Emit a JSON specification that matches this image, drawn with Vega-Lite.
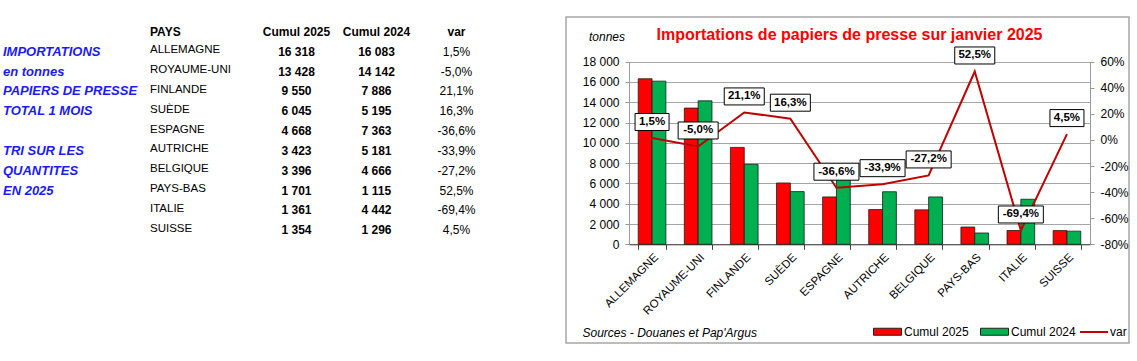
{
  "$schema": "https://vega.github.io/schema/vega-lite/v6.json",
  "padding": {"left": 0, "top": 16, "right": 0, "bottom": 0},
  "background": "white",
  "spacing": 85,
  "config": {
    "font": "Liberation Sans",
    "locale": {"number": {"decimal": ",", "thousands": " ", "grouping": [3], "currency": ["", " €"], "minus": "-"}},
    "text": {"color": "#000000"}
  },
  "datasets": {
    "pays": [
      {"rank": 1, "country": "ALLEMAGNE", "c2025": 16318, "c2024": 16083, "var": 0.015},
      {"rank": 2, "country": "ROYAUME-UNI", "c2025": 13428, "c2024": 14142, "var": -0.05},
      {"rank": 3, "country": "FINLANDE", "c2025": 9550, "c2024": 7886, "var": 0.211},
      {"rank": 4, "country": "SUÈDE", "c2025": 6045, "c2024": 5195, "var": 0.163},
      {"rank": 5, "country": "ESPAGNE", "c2025": 4668, "c2024": 7363, "var": -0.366},
      {"rank": 6, "country": "AUTRICHE", "c2025": 3423, "c2024": 5181, "var": -0.339},
      {"rank": 7, "country": "BELGIQUE", "c2025": 3396, "c2024": 4666, "var": -0.272},
      {"rank": 8, "country": "PAYS-BAS", "c2025": 1701, "c2024": 1115, "var": 0.525},
      {"rank": 9, "country": "ITALIE", "c2025": 1361, "c2024": 4442, "var": -0.694},
      {"rank": 10, "country": "SUISSE", "c2025": 1354, "c2024": 1296, "var": 0.045}
    ]
  },
  "hconcat": [
    {
      "width": 480,
      "height": 225.2,
      "view": {"stroke": null},
      "data": {"name": "pays"},
      "encoding": {
        "y": {"field": "rank", "type": "ordinal", "scale": {"type": "point", "domain": [0, 1, 2, 3, 4, 5, 6, 7, 8, 9, 10], "padding": 0.68}, "axis": null}
      },
      "layer": [
        {
          "data": {"values": [
            {"rank": 1, "text": "IMPORTATIONS"},
            {"rank": 2, "text": "en tonnes"},
            {"rank": 3, "text": "PAPIERS DE PRESSE"},
            {"rank": 4, "text": "TOTAL 1 MOIS"},
            {"rank": 6, "text": "TRI SUR LES"},
            {"rank": 7, "text": "QUANTITES"},
            {"rank": 8, "text": "EN 2025"}
          ]},
          "mark": {"type": "text", "align": "left", "baseline": "middle", "dx": -133.5, "dy": 1.5, "fontSize": 13, "fontWeight": "bold", "fontStyle": "italic", "color": "#1a1aff"},
          "encoding": {
            "x": {"datum": "label", "type": "nominal", "scale": {"type": "point", "domain": ["label", "PAYS", "Cumul 2025", "Cumul 2024", "var"], "padding": 1, "align": 0.853}, "axis": null},
            "text": {"field": "text"}
          }
        },
        {
          "data": {"values": [{"rank": 0, "text": "PAYS"}]},
          "mark": {"type": "text", "align": "left", "baseline": "middle", "dx": -66.5, "dy": 2, "fontSize": 12, "fontWeight": "bold"},
          "encoding": {
            "x": {"datum": "PAYS", "type": "nominal", "scale": {"type": "point", "domain": ["label", "PAYS", "Cumul 2025", "Cumul 2024", "var"], "padding": 1, "align": 0.853}, "axis": null},
            "text": {"field": "text"}
          }
        },
        {
          "data": {"values": [{"rank": 0, "col": "Cumul 2025"}, {"rank": 0, "col": "Cumul 2024"}, {"rank": 0, "col": "var"}]},
          "mark": {"type": "text", "align": "center", "baseline": "middle", "dy": 2, "fontSize": 12, "fontWeight": "bold"},
          "encoding": {
            "x": {"field": "col", "type": "nominal", "scale": {"type": "point", "domain": ["label", "PAYS", "Cumul 2025", "Cumul 2024", "var"], "padding": 1, "align": 0.853}, "axis": null},
            "text": {"field": "col"}
          }
        },
        {
          "mark": {"type": "text", "align": "left", "baseline": "middle", "dx": -66.5, "fontSize": 11.5},
          "encoding": {
            "x": {"datum": "PAYS", "type": "nominal", "scale": {"type": "point", "domain": ["label", "PAYS", "Cumul 2025", "Cumul 2024", "var"], "padding": 1, "align": 0.853}, "axis": null},
            "text": {"field": "country"}
          }
        },
        {
          "mark": {"type": "text", "align": "center", "baseline": "middle", "dy": 1.5, "fontSize": 12, "fontWeight": "bold"},
          "encoding": {
            "x": {"datum": "Cumul 2025", "type": "nominal", "scale": {"type": "point", "domain": ["label", "PAYS", "Cumul 2025", "Cumul 2024", "var"], "padding": 1, "align": 0.853}, "axis": null},
            "text": {"field": "c2025", "type": "quantitative", "format": ",d"}
          }
        },
        {
          "mark": {"type": "text", "align": "center", "baseline": "middle", "dy": 1.5, "fontSize": 12, "fontWeight": "bold"},
          "encoding": {
            "x": {"datum": "Cumul 2024", "type": "nominal", "scale": {"type": "point", "domain": ["label", "PAYS", "Cumul 2025", "Cumul 2024", "var"], "padding": 1, "align": 0.853}, "axis": null},
            "text": {"field": "c2024", "type": "quantitative", "format": ",d"}
          }
        },
        {
          "mark": {"type": "text", "align": "center", "baseline": "middle", "dy": 1.5, "fontSize": 12},
          "encoding": {
            "x": {"datum": "var", "type": "nominal", "scale": {"type": "point", "domain": ["label", "PAYS", "Cumul 2025", "Cumul 2024", "var"], "padding": 1, "align": 0.853}, "axis": null},
            "text": {"field": "var", "type": "quantitative", "format": ".1%"}
          }
        }
      ]
    },
    {
      "width": 563,
      "height": 326,
      "view": {"stroke": "#a6a6a6", "strokeWidth": 1.5},
      "title": {"text": "Importations de papiers de presse sur janvier 2025", "color": "#ff0000", "fontSize": 16, "fontWeight": "bold", "offset": -34, "baseline": "middle", "frame": "group", "anchor": "middle", "dx": 2},
      "data": {"name": "pays"},
      "resolve": {"scale": {"y": "independent"}},
      "layer": [
        {
          "transform": [{"fold": ["c2025", "c2024"], "as": ["serie", "value"]}],
          "mark": {"type": "bar", "stroke": "#1a1a1a", "strokeWidth": 0.8},
          "encoding": {
            "x": {
              "field": "country", "type": "nominal", "sort": null,
              "scale": {"domain": ["ALLEMAGNE", "ROYAUME-UNI", "FINLANDE", "SUÈDE", "ESPAGNE", "AUTRICHE", "BELGIQUE", "PAYS-BAS", "ITALIE", "SUISSE"], "range": [63, 524], "paddingInner": 0.4, "paddingOuter": 0.2},
              "axis": {
                "orient": "bottom", "offset": -98.7,
                "title": "Sources - Douanes et Pap'Argus", "titleX": 16, "titleY": 88, "titleAlign": "left", "titleBaseline": "middle",
                "titleFontStyle": "italic", "titleFontWeight": "normal", "titleFontSize": 12, "titleColor": "#000000",
                "labelAngle": -45, "labelFontSize": 11.5, "labelColor": "#000000", "labelPadding": 2,
                "tickBand": "extent", "tickSize": 5, "tickColor": "#404040", "domainColor": "#404040", "grid": false
              }
            },
            "xOffset": {"field": "serie", "type": "nominal", "scale": {"domain": ["c2025", "c2024"]}},
            "y": {
              "field": "value", "type": "quantitative",
              "scale": {"domain": [0, 18000], "range": [227.3, 44.7], "nice": false},
              "axis": {
                "orient": "left", "offset": -63, "values": [0, 2000, 4000, 6000, 8000, 10000, 12000, 14000, 16000, 18000], "format": ",d",
                "title": "tonnes", "titleAngle": 0, "titleX": -22.5, "titleY": 19, "titleAlign": "center", "titleBaseline": "middle",
                "titleFontStyle": "italic", "titleFontWeight": "normal", "titleFontSize": 12, "titleColor": "#000000",
                "labelFontSize": 12, "labelColor": "#000000", "labelPadding": 6, "tickSize": 4, "tickColor": "#999999", "domainColor": "#999999",
                "grid": true, "gridColor": "#a6a6a6"
              }
            },
            "fill": {
              "field": "serie", "type": "nominal",
              "scale": {"domain": ["c2025", "c2024"], "range": ["#ff0000", "#00b050"]},
              "legend": {
                "orient": "none", "legendX": 873, "legendY": 300, "direction": "horizontal", "title": null,
                "symbolType": "M-1,-0.25H1V0.25H-1Z", "symbolSize": 784, "symbolStrokeColor": "#222222", "symbolStrokeWidth": 1,
                "labelFontSize": 12, "labelColor": "#000000", "labelOffset": 2, "columnPadding": 9, "padding": 0,
                "labelExpr": "datum.label == 'c2025' ? 'Cumul 2025' : 'Cumul 2024'"
              }
            }
          }
        },
        {
          "encoding": {
            "x": {"field": "country", "type": "nominal", "sort": null},
            "y": {
              "field": "var", "type": "quantitative",
              "scale": {"domain": [-0.8, 0.6], "range": [227.3, 44.7], "nice": false, "zero": false}
            }
          },
          "layer": [
            {
              "mark": {"type": "line", "strokeWidth": 2},
              "encoding": {
                "y": {
                  "field": "var", "type": "quantitative",
                  "axis": {
                    "orient": "right", "offset": -39, "values": [-0.8, -0.6, -0.4, -0.2, 0, 0.2, 0.4, 0.6], "format": ".0%", "title": null,
                    "labelFontSize": 12, "labelColor": "#000000", "labelPadding": 6, "tickSize": 4, "tickColor": "#999999", "domainColor": "#999999", "grid": false
                  }
                },
                "stroke": {
                  "datum": "var", "type": "nominal",
                  "scale": {"domain": ["var"], "range": ["#c00000"]},
                  "legend": {
                    "orient": "none", "legendX": 1079, "legendY": 300, "title": null,
                    "symbolType": "stroke", "symbolSize": 784, "symbolStrokeWidth": 2,
                    "labelFontSize": 12, "labelColor": "#000000", "labelOffset": 1, "padding": 0
                  }
                }
              }
            },
            {
              "mark": {"type": "point", "filled": true, "fill": "#ffffff", "stroke": "#000000", "strokeWidth": 1, "opacity": 1, "size": 2025, "yOffset": -16},
              "encoding": {
                "shape": {
                  "condition": [
                    {"test": "length(format(datum['var'], '.1%')) >= 6", "value": "M-1,-0.378H1V0.378H-1Z"},
                    {"test": "length(format(datum['var'], '.1%')) == 5", "value": "M-0.889,-0.378H0.889V0.378H-0.889Z"}
                  ],
                  "value": "M-0.756,-0.378H0.756V0.378H-0.756Z"
                }
              }
            },
            {
              "mark": {"type": "text", "fontSize": 11.5, "fontWeight": "bold", "baseline": "middle", "align": "center", "yOffset": -16, "color": "#000000"},
              "encoding": {
                "text": {"field": "var", "type": "quantitative", "format": ".1%"}
              }
            }
          ]
        }
      ]
    }
  ]
}
